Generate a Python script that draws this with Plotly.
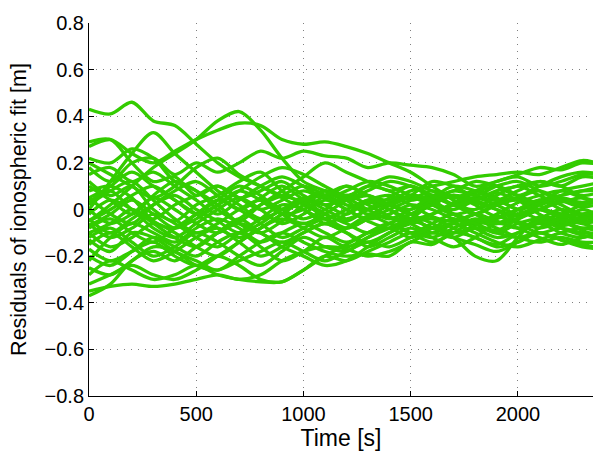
import plotly.graph_objects as go

# Sample times [s] (every 100 s)
time_s = [0, 100, 200, 300, 400, 500, 600, 700, 800, 900, 1000, 1100, 1200,
          1300, 1400, 1500, 1600, 1700, 1800, 1900, 2000, 2100, 2200, 2300, 2400]

# Residuals of the ionospheric fit per satellite [m]
sat01 = [0.43, 0.41, 0.46, 0.38, 0.36, 0.28, 0.20, 0.14, 0.10, 0.06, 0.04, 0.06, 0.02, 0.00, 0.03, 0.05, 0.02, -0.02, 0.00, 0.03, 0.05, 0.02, 0.06, 0.08, 0.10]
sat02 = [-0.05, 0.02, 0.10, 0.18, 0.24, 0.30, 0.38, 0.42, 0.34, 0.22, 0.12, 0.08, 0.04, 0.06, 0.02, 0.00, 0.04, 0.06, 0.03, 0.00, -0.03, 0.00, 0.04, 0.02, 0.05]
sat03 = [0.27, 0.30, 0.24, 0.20, 0.25, 0.30, 0.34, 0.37, 0.36, 0.30, 0.28, 0.29, 0.27, 0.24, 0.20, 0.16, 0.10, 0.05, 0.08, 0.05, 0.00, 0.03, 0.08, 0.10, 0.12]
sat04 = [0.18, 0.12, 0.20, 0.22, 0.15, 0.20, 0.16, 0.20, 0.25, 0.22, 0.25, 0.23, 0.22, 0.18, 0.20, 0.19, 0.18, 0.15, 0.10, 0.12, 0.15, 0.18, 0.17, 0.20, 0.19]
sat05 = [0.05, 0.08, 0.00, -0.04, 0.02, 0.06, 0.10, 0.05, 0.00, 0.04, 0.08, 0.05, 0.10, 0.06, 0.04, 0.08, 0.10, 0.12, 0.14, 0.15, 0.16, 0.15, 0.18, 0.21, 0.19]
sat06 = [0.00, 0.12, 0.24, 0.33, 0.24, 0.16, 0.08, 0.02, -0.04, 0.00, 0.05, 0.02, -0.02, 0.03, 0.00, -0.04, -0.02, 0.02, 0.05, 0.02, -0.02, 0.02, 0.05, 0.03, 0.06]
sat07 = [0.29, 0.30, 0.20, 0.12, 0.14, 0.06, 0.10, 0.05, 0.08, 0.12, 0.06, 0.02, 0.05, 0.10, 0.08, 0.04, 0.06, 0.02, -0.02, 0.02, 0.05, 0.08, 0.04, 0.01, 0.03]
sat08 = [0.22, 0.20, 0.26, 0.22, 0.12, 0.08, 0.00, -0.05, 0.02, 0.08, 0.14, 0.20, 0.16, 0.12, 0.08, 0.10, 0.06, 0.08, 0.12, 0.10, 0.06, 0.10, 0.14, 0.16, 0.15]
sat09 = [0.20, 0.15, 0.10, 0.05, 0.10, 0.18, 0.22, 0.15, 0.10, 0.05, 0.00, -0.04, 0.00, 0.04, 0.06, 0.02, -0.03, -0.05, -0.02, 0.02, 0.04, 0.00, -0.02, -0.05, -0.03]
sat10 = [0.15, 0.18, 0.12, 0.16, 0.10, 0.04, -0.02, 0.04, 0.10, 0.14, 0.10, 0.05, 0.08, 0.12, 0.10, 0.06, 0.03, 0.06, 0.02, -0.03, 0.00, 0.04, 0.06, 0.08, 0.08]
sat11 = [0.12, 0.06, 0.10, 0.00, -0.05, 0.02, 0.06, 0.12, 0.16, 0.08, 0.02, -0.02, -0.05, 0.00, 0.02, -0.02, 0.04, 0.08, 0.06, 0.04, 0.08, 0.12, 0.10, 0.14, 0.13]
sat12 = [0.10, 0.04, -0.02, 0.06, 0.12, 0.08, 0.02, -0.06, -0.10, -0.05, 0.02, 0.08, 0.05, 0.00, -0.04, 0.00, 0.05, 0.02, 0.00, 0.06, 0.10, 0.06, 0.02, -0.02, 0.00]
sat13 = [0.08, 0.10, 0.05, -0.05, -0.08, -0.02, 0.04, 0.10, 0.06, -0.02, -0.06, -0.02, 0.04, 0.08, 0.12, 0.10, 0.06, 0.10, 0.08, 0.04, 0.00, -0.04, -0.02, 0.02, 0.04]
sat14 = [0.05, -0.02, -0.06, 0.02, 0.08, 0.12, 0.06, 0.00, 0.05, 0.10, 0.04, -0.04, -0.08, -0.04, 0.00, 0.04, 0.08, 0.04, -0.02, -0.06, -0.04, 0.00, 0.03, 0.05, 0.02]
sat15 = [0.02, 0.08, 0.12, 0.04, -0.04, -0.10, -0.06, 0.00, 0.04, 0.00, -0.04, 0.00, 0.06, 0.02, -0.03, -0.06, -0.02, 0.03, 0.07, 0.10, 0.06, 0.02, -0.04, -0.08, -0.06]
sat16 = [0.00, -0.06, -0.02, 0.05, 0.00, -0.06, -0.10, -0.04, 0.02, 0.06, 0.10, 0.06, 0.00, -0.04, -0.02, 0.02, 0.00, -0.04, -0.06, -0.02, 0.03, 0.06, 0.08, 0.05, 0.02]
sat17 = [-0.02, 0.04, 0.00, -0.08, -0.12, -0.06, 0.00, 0.05, 0.00, -0.06, -0.02, 0.04, 0.00, -0.05, -0.08, -0.04, 0.02, 0.00, 0.04, 0.07, 0.04, -0.02, -0.06, -0.03, -0.02]
sat18 = [-0.04, -0.10, -0.04, 0.02, 0.06, 0.00, -0.05, -0.10, -0.06, 0.00, 0.03, -0.02, -0.06, -0.10, -0.06, -0.02, 0.02, 0.06, 0.04, 0.00, -0.05, -0.08, -0.05, 0.00, -0.04]
sat19 = [-0.05, 0.00, 0.06, 0.10, 0.04, -0.02, -0.08, -0.12, -0.08, -0.02, 0.04, 0.08, 0.04, -0.02, 0.02, 0.06, 0.04, -0.02, -0.06, -0.04, 0.00, 0.04, 0.00, -0.06, -0.08]
sat20 = [-0.06, -0.12, -0.08, -0.02, -0.06, -0.12, -0.16, -0.10, -0.04, 0.02, 0.00, -0.06, -0.02, 0.04, 0.00, -0.06, -0.10, -0.06, -0.02, -0.05, -0.08, -0.04, 0.00, -0.03, -0.05]
sat21 = [-0.08, -0.04, -0.10, -0.14, -0.08, -0.02, 0.04, 0.00, -0.06, -0.12, -0.08, -0.04, -0.08, -0.04, 0.02, -0.02, -0.06, -0.10, -0.07, -0.03, -0.06, -0.10, -0.08, -0.10, -0.10]
sat22 = [-0.10, -0.06, 0.00, -0.06, -0.12, -0.16, -0.10, -0.04, -0.10, -0.14, -0.10, -0.06, -0.10, -0.14, -0.10, -0.05, -0.08, -0.12, -0.20, -0.22, -0.12, -0.03, -0.05, -0.09, -0.12]
sat23 = [-0.10, -0.16, -0.12, -0.06, -0.10, -0.16, -0.20, -0.14, -0.08, -0.04, -0.08, -0.12, -0.08, -0.03, -0.06, -0.10, -0.14, -0.10, -0.05, -0.08, -0.12, -0.14, -0.12, -0.14, -0.14]
sat24 = [-0.12, -0.08, -0.14, -0.20, -0.16, -0.10, -0.14, -0.20, -0.24, -0.18, -0.12, -0.16, -0.18, -0.12, -0.08, -0.12, -0.08, -0.04, -0.08, -0.12, -0.10, -0.06, -0.10, -0.12, -0.08]
sat25 = [-0.13, -0.18, -0.10, -0.12, -0.18, -0.22, -0.26, -0.20, -0.14, -0.10, -0.14, -0.18, -0.20, -0.19, -0.20, -0.14, -0.15, -0.10, -0.12, -0.16, -0.14, -0.10, -0.13, -0.16, -0.17]
sat26 = [-0.15, -0.10, -0.16, -0.22, -0.18, -0.12, -0.08, -0.14, -0.20, -0.16, -0.10, -0.06, -0.10, -0.16, -0.12, -0.08, -0.12, -0.16, -0.12, -0.06, -0.08, -0.12, -0.15, -0.12, -0.10]
sat27 = [-0.17, -0.22, -0.18, -0.14, -0.20, -0.24, -0.20, -0.24, -0.30, -0.31, -0.26, -0.20, -0.15, -0.10, -0.06, -0.10, -0.06, -0.02, -0.06, -0.10, -0.06, -0.04, -0.07, -0.05, -0.06]
sat28 = [-0.20, -0.24, -0.18, -0.12, -0.16, -0.20, -0.14, -0.10, -0.16, -0.22, -0.18, -0.12, -0.16, -0.12, -0.08, -0.04, -0.08, -0.06, -0.10, -0.14, -0.16, -0.13, -0.10, -0.08, -0.10]
sat29 = [-0.22, -0.12, -0.06, -0.10, -0.14, -0.08, -0.04, -0.08, -0.14, -0.10, -0.06, -0.10, -0.14, -0.10, -0.06, -0.02, 0.02, -0.02, -0.06, -0.09, -0.04, 0.00, -0.02, -0.04, -0.02]
sat30 = [-0.25, -0.28, -0.22, -0.16, -0.18, -0.24, -0.26, -0.22, -0.18, -0.14, -0.18, -0.22, -0.18, -0.14, -0.16, -0.12, -0.08, -0.12, -0.15, -0.18, -0.14, -0.08, -0.04, -0.06, -0.04]
sat31 = [-0.28, -0.22, -0.26, -0.30, -0.28, -0.24, -0.28, -0.30, -0.31, -0.31, -0.26, -0.20, -0.22, -0.18, -0.14, -0.10, -0.12, -0.08, -0.04, -0.06, -0.02, 0.00, -0.03, -0.02, 0.00]
sat32 = [-0.35, -0.33, -0.32, -0.33, -0.32, -0.30, -0.28, -0.30, -0.28, -0.22, -0.18, -0.16, -0.17, -0.20, -0.18, -0.14, -0.10, -0.12, -0.08, -0.10, -0.12, -0.10, -0.13, -0.15, -0.17]
sat33 = [-0.37, -0.32, -0.22, -0.18, -0.22, -0.16, -0.10, -0.06, -0.10, -0.16, -0.20, -0.24, -0.22, -0.16, -0.10, -0.06, -0.04, -0.08, -0.12, -0.15, -0.10, -0.05, -0.08, -0.11, -0.13]
sat34 = [-0.32, -0.28, -0.24, -0.28, -0.30, -0.26, -0.20, -0.14, -0.08, -0.02, 0.04, 0.00, -0.04, 0.00, 0.05, 0.10, 0.06, 0.02, 0.04, 0.08, 0.10, 0.12, 0.10, 0.06, 0.08]
sat35 = [0.03, 0.10, 0.16, 0.10, 0.04, -0.02, 0.02, 0.08, 0.14, 0.18, 0.15, 0.10, 0.06, 0.10, 0.14, 0.12, 0.08, 0.05, 0.08, 0.12, 0.14, 0.10, 0.12, 0.15, 0.15]
sat36 = [-0.07, -0.02, 0.04, -0.02, -0.08, -0.04, 0.02, 0.08, 0.04, -0.02, 0.00, 0.06, 0.10, 0.06, 0.02, 0.06, 0.12, 0.10, 0.06, 0.10, 0.12, 0.08, 0.04, 0.02, 0.05]

satellites = [sat01, sat02, sat03, sat04, sat05, sat06, sat07, sat08, sat09,
              sat10, sat11, sat12, sat13, sat14, sat15, sat16, sat17, sat18,
              sat19, sat20, sat21, sat22, sat23, sat24, sat25, sat26, sat27,
              sat28, sat29, sat30, sat31, sat32, sat33, sat34, sat35, sat36]

x_ticks = [0, 500, 1000, 1500, 2000]
y_ticks = [-0.8, -0.6, -0.4, -0.2, 0, 0.2, 0.4, 0.6, 0.8]
y_tick_text = ["\u22120.8", "\u22120.6", "\u22120.4", "\u22120.2", "0",
               "0.2", "0.4", "0.6", "0.8"]

LINE_GREEN = "#33cc00"
FONT = "Liberation Sans, Arial, Helvetica, sans-serif"
TICK_SIZE = 20
XTITLE_SIZE = 23
YTITLE_SIZE = 21.5

fig = go.Figure()
for res in satellites:
    fig.add_trace(go.Scatter(
        x=time_s, y=res, mode="lines",
        line=dict(color=LINE_GREEN, width=3.3, shape="spline", smoothing=0.9),
        showlegend=False, hoverinfo="skip",
    ))

axis_common = dict(
    ticks="inside", ticklen=5, tickcolor="black", tickwidth=1,
    showline=True, linecolor="black", linewidth=1, mirror=False,
    showgrid=True, gridcolor="#7f7f7f", gridwidth=1, griddash="1px,6px",
    zeroline=False, tickfont=dict(family=FONT, size=TICK_SIZE, color="black"),
)

fig.update_layout(
    width=609, height=453,
    margin=dict(l=89, r=16, t=16, b=55, pad=0),
    paper_bgcolor="white", plot_bgcolor="white",
    font=dict(family=FONT, size=TICK_SIZE, color="black"),
    xaxis=dict(
        range=[0, 2350], tickvals=x_ticks,
        title=dict(text="Time [s]", font=dict(family=FONT, size=XTITLE_SIZE),
                   standoff=0),
        **axis_common,
    ),
    yaxis=dict(
        range=[-0.8, 0.8], tickvals=y_ticks, ticktext=y_tick_text,
        title=dict(text="Residuals of ionospheric fit [m]",
                   font=dict(family=FONT, size=YTITLE_SIZE), standoff=11),
        **axis_common,
    ),
)

fig.write_html("out.html")
